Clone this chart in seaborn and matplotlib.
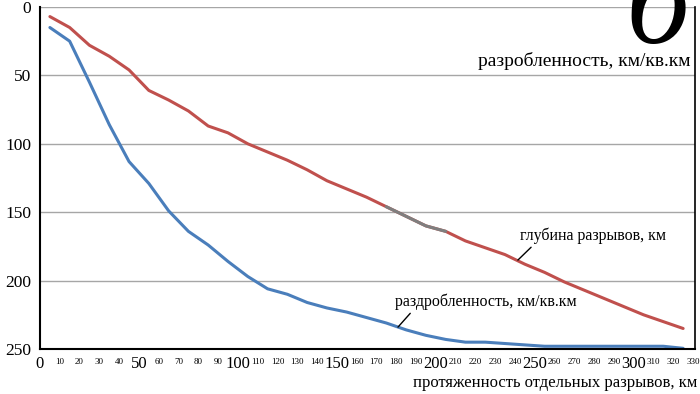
import matplotlib
matplotlib.use("Agg")
import matplotlib.pyplot as plt
import seaborn as sns
import numpy as np

# data
dist = [5, 15, 25, 35, 45, 55, 65, 75, 85, 95, 105, 115, 125, 135, 145, 155, 165,
        175, 185, 195, 205, 215, 225, 235, 245, 255, 265, 275, 285, 295, 305, 315, 325]
depth = [7, 15, 28, 36, 46, 61, 68, 76, 87, 92, 100, 106, 112, 119, 127, 133, 139,
         146, 153, 160, 164, 171, 176, 181, 188, 194, 201, 207, 213, 219, 225, 230, 235]
fragm = [15, 25, 55, 86, 113, 129, 149, 164, 174, 186, 197, 206, 210, 216, 220, 223, 227,
         231, 236, 240, 243, 245, 245, 246, 247, 248, 248, 248, 248, 248, 248, 248, 249.5]

small_ticks = [t for t in range(10, 331, 10) if t % 50 != 0]
big_ticks = list(range(0, 301, 50))
y_ticks = [0, 50, 100, 150, 200, 250]

red = "#c0504d"
blue = "#4a7ebb"
grey = "#7f7f7f"

sns.set_style("white")
plt.rcParams['font.family'] = ['Liberation Serif', 'DejaVu Serif']
plt.rcParams['text.color'] = 'black'
plt.rcParams['xtick.color'] = 'black'
plt.rcParams['ytick.color'] = 'black'

fig = plt.figure(figsize=(7, 3.94), dpi=100)
ax = fig.add_axes([40/700, 1-349/394, (695-40)/700, (349-7)/394])

# horizontal grid
for yv in y_ticks[:-1]:
    ax.axhline(yv, color="#a6a6a6", lw=1, zorder=0)

sns.lineplot(x=dist, y=depth, color=red, lw=2.2, ax=ax)
sns.lineplot(x=dist[17:21], y=depth[17:21], color=grey, lw=2.2, ax=ax)
sns.lineplot(x=dist, y=fragm, color=blue, lw=2.2, ax=ax)

ax.set_xlim(0, 331)
ax.set_ylim(250, 0)

ax.set_xticks(small_ticks)
ax.set_xticklabels([str(t) for t in small_ticks])
ax.set_xticks(big_ticks, minor=True)
ax.set_xticklabels([str(t) for t in big_ticks], minor=True)
ax.tick_params(axis='x', which='major', direction='out', length=3.5, width=1,
               color='black', labelcolor='black', labelsize=6.5, pad=3)
ax.tick_params(axis='x', which='minor', direction='out', length=3.5, width=1,
               color='black', labelcolor='black', labelsize=12, pad=1.5)
ax.set_yticks(y_ticks)
ax.set_yticklabels([str(t) for t in y_ticks])
ax.tick_params(axis='y', direction='out', length=2.5, width=1, color='black',
               labelcolor='black', labelsize=12.5, pad=4)
ax.set_xlabel("")
ax.set_ylabel("")

ax.spines['top'].set_visible(False)
for s in ['left', 'bottom', 'right']:
    ax.spines[s].set_color('black')
ax.spines['left'].set_linewidth(1.5)
ax.spines['bottom'].set_linewidth(1.5)
ax.spines['right'].set_linewidth(1.2)

# callouts
ax.annotate("глубина разрывов, км", xy=(241.5, 185), xytext=(242.5, 170.3),
            fontsize=11.5, ha='left', va='baseline', color='black',
            arrowprops=dict(arrowstyle='-', color='black', lw=1,
                            shrinkA=0, shrinkB=0, relpos=(0.1, 0)))
ax.annotate("раздробленность, км/кв.км", xy=(180.9, 234), xytext=(179.4, 218.6),
            fontsize=11.5, ha='left', va='baseline', color='black',
            arrowprops=dict(arrowstyle='-', color='black', lw=1,
                            shrinkA=0, shrinkB=0, relpos=(0.1, 0)))

fig.text(690/700, 1-66/394, "разробленность, км/кв.км", fontsize=14,
         ha='right', va='baseline', color='black')
fig.text(697/700, 1-387/394, "протяженность отдельных разрывов, км", fontsize=12,
         ha='right', va='baseline', color='black')
fig.text(658/700, 1-43/394, "б", fontsize=92, fontstyle='italic',
         ha='center', va='baseline', color='black')

fig.savefig("out.png", dpi=100)
